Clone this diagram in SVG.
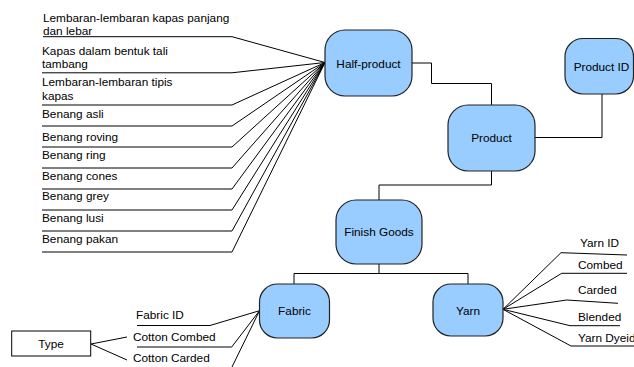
<svg xmlns="http://www.w3.org/2000/svg" width="634" height="367" viewBox="0 0 634 367">
  <style>
    text { font-family: "Liberation Sans", Arial, sans-serif; font-size: 11.8px; fill: #000; }
    .node rect { fill: #99ccff; stroke: #222; stroke-width: 1.2; }
    .node text { text-anchor: middle; }
    .plain rect { fill: #fff; stroke: #000; stroke-width: 1; }
    .plain text { text-anchor: middle; }
    .conn path { fill: none; stroke: #000; stroke-width: 1; }
  </style>
  <rect width="634" height="367" fill="#fff"/>

  <!-- connectors -->
  <g class="conn" id="connectors">
    <path d="M412,63 H431.5 V83.5 H491.5 V105"/>
    <path d="M535,137.5 H602 V94"/>
    <path d="M491.5,171 V185 H379 V200"/>
    <path d="M379,264 V273.5"/>
    <path d="M294,284 V273.5 H468 V284"/>
    <!-- Half-product attribute fan -->
    <path d="M325,62.5 L232,36.7 H43"/>
    <path d="M325,62.5 L232,72.8 H42"/>
    <path d="M325,62.5 L232,105 H42"/>
    <path d="M325,62.5 L232,126 H42"/>
    <path d="M325,62.5 L232,147 H42"/>
    <path d="M325,62.5 L232,168 H42"/>
    <path d="M325,62.5 L232,189 H42"/>
    <path d="M325,62.5 L232,210 H42"/>
    <path d="M325,62.5 L232,231 H42"/>
    <path d="M325,62.5 L232,252 H42"/>
    <!-- Fabric attribute fan -->
    <path d="M259.5,310.7 L210,325.5 H137"/>
    <path d="M259.5,310.7 L231.7,347 H137"/>
    <path d="M259.5,310.7 L231.5,368 H137"/>
    <!-- Type links -->
    <path d="M91,344 L127,337"/>
    <path d="M91,344 L127,360"/>
    <!-- Yarn attribute fan -->
    <path d="M503,309.3 L561,252.7 L627,255"/>
    <path d="M503,309.3 L561.7,273.3 H627"/>
    <path d="M503,309.3 L566.7,300 L618,303.3"/>
    <path d="M503,309.3 L570,325.7 H620"/>
    <path d="M503,309.3 L571,346 H640"/>
  </g>

  <!-- attribute labels -->
  <g id="half-product-labels">
    <text x="43" y="22">Lembaran-lembaran kapas panjang</text>
    <text x="43" y="35">dan lebar</text>
    <text x="42" y="55">Kapas dalam bentuk tali</text>
    <text x="42" y="68.3">tambang</text>
    <text x="42" y="86">Lembaran-lembaran tipis</text>
    <text x="42" y="100">kapas</text>
    <text x="42" y="118.3">Benang asli</text>
    <text x="42" y="140.7">Benang roving</text>
    <text x="42" y="159.3">Benang ring</text>
    <text x="42" y="179.8">Benang cones</text>
    <text x="42" y="200.3">Benang grey</text>
    <text x="42" y="221.7">Benang lusi</text>
    <text x="42" y="243.3">Benang pakan</text>
  </g>
  <g id="fabric-labels">
    <text x="136" y="318.5">Fabric ID</text>
    <text x="133" y="340.7">Cotton Combed</text>
    <text x="133" y="361.5">Cotton Carded</text>
  </g>
  <g id="yarn-labels">
    <text x="580" y="246.7">Yarn ID</text>
    <text x="578" y="269">Combed</text>
    <text x="578" y="294">Carded</text>
    <text x="578" y="320.7">Blended</text>
    <text x="578" y="341.7">Yarn Dyeid</text>
  </g>

  <!-- nodes -->
  <g class="node" id="half-product">
    <rect x="325" y="30" width="87" height="66" rx="20"/>
    <text x="368.5" y="67.5">Half-product</text>
  </g>
  <g class="node" id="product">
    <rect x="448" y="105" width="87" height="66" rx="20"/>
    <text x="491.5" y="142">Product</text>
  </g>
  <g class="node" id="product-id">
    <rect x="565" y="38.5" width="68.5" height="55.5" rx="18"/>
    <text x="601.5" y="70.5">Product ID</text>
  </g>
  <g class="node" id="finish-goods">
    <rect x="336" y="200" width="86" height="64" rx="20"/>
    <text x="379" y="236">Finish Goods</text>
  </g>
  <g class="node" id="fabric">
    <rect x="259.5" y="284" width="70" height="54" rx="18"/>
    <text x="294.5" y="315">Fabric</text>
  </g>
  <g class="node" id="yarn">
    <rect x="433" y="284" width="70" height="52" rx="18"/>
    <text x="468" y="314.5">Yarn</text>
  </g>
  <g class="plain" id="type">
    <rect x="11.7" y="331" width="79" height="25"/>
    <text x="51" y="348">Type</text>
  </g>
</svg>
